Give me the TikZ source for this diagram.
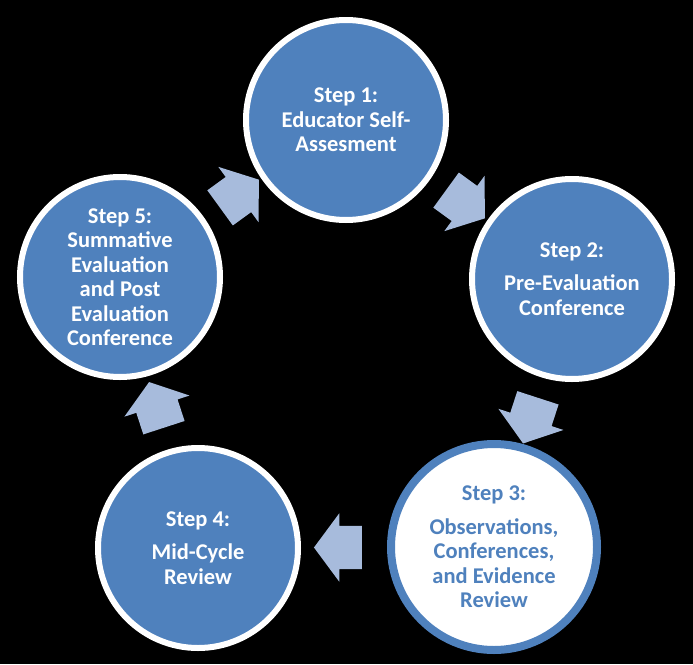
\documentclass[tikz,border=0pt]{standalone}
\usepackage{fontspec}
\setmainfont{Carlito}
\usetikzlibrary{shapes.arrows,calc}

\definecolor{stepblue}{RGB}{79,129,189}
\definecolor{arrowblue}{RGB}{167,187,220}

\begin{document}
\begin{tikzpicture}[x=1pt,y=-1pt,
  step circle/.style={circle,draw=white,line width=6pt,fill=stepblue,minimum size=200pt,inner sep=0pt,
    align=center,text=white,font=\bfseries\fontsize{22.5}{24.5}\selectfont},
  open circle/.style={step circle,draw=stepblue,line width=8pt,fill=white,text=stepblue,minimum size=206pt},
  cycle arrow/.style={single arrow,fill=arrowblue,inner xsep=0pt,inner ysep=21.5pt,minimum height=48pt,
    single arrow head extend=12.5pt,single arrow tip angle=107}]
% Background
\fill[black] (0,0) rectangle (693,664);
\useasboundingbox (0,0) rectangle (693,664);

% Step nodes
\node[step circle] (s1) at (346,120) {Step 1:\\Educator Self-\\Assesment};
\node[step circle] (s2) at (572,279) {Step 2:\\[9pt]Pre-Evaluation\\Conference};
\node[open circle] (s3) at (494,547) {Step 3:\\[9pt]Observations,\\Conferences,\\and Evidence\\Review};
\node[step circle] (s4) at (198,548) {Step 4:\\[9pt]Mid-Cycle\\Review};
\node[step circle] (s5) at (120,277) {Step 5:\\Summative\\Evaluation\\and Post\\Evaluation\\Conference};

% Arrows between steps
\node[cycle arrow,rotate=-36] (a12) at ($(s1)!0.5!(s2)$) {};
\node[cycle arrow,rotate=-108] (a23) at ($(s2)!0.5!(s3)$) {};
\node[cycle arrow,rotate=180] (a34) at ($(s3)!0.5!(s4)$) {};
\node[cycle arrow,rotate=108] (a45) at ($(s4)!0.5!(s5)$) {};
\node[cycle arrow,rotate=36] (a51) at ($(s5)!0.5!(s1)$) {};

\end{tikzpicture}
\end{document}
